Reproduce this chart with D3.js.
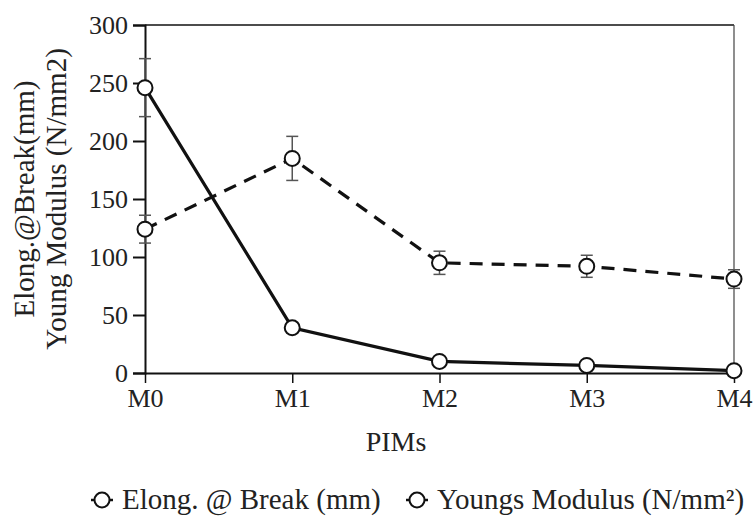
<!DOCTYPE html>
<html>
<head>
<meta charset="utf-8">
<script src="https://cdn.jsdelivr.net/npm/d3@7"></script>
<style>
  body { margin: 0; background: #fff; }
  svg text { font-family: "Liberation Serif", "Times New Roman", serif; fill: #222; }
</style>
</head>
<body>
<script>
// data
const categories = ["M0", "M1", "M2", "M3", "M4"];
const elongValues = [246, 39, 10, 6.5, 2];
const youngValues = [124, 185, 95, 92, 81];
const youngErrors = [12, 19, 10, 9.5, 8];
const elongErrors = [25, 0, 0, 0, 0];
const yTicks = [0, 50, 100, 150, 200, 250, 300];

const width = 756, height = 516;
const margin = {top: 25, right: 22, bottom: 143, left: 145};
const serif = "'Liberation Serif', 'Times New Roman', serif";

let svg = d3.select("body").append("svg")
  .attr("width", width).attr("height", height);

let x = d3.scalePoint().domain(categories)
  .range([margin.left, width - margin.right]);
let y = d3.scaleLinear().domain([0, 300])
  .range([height - margin.bottom, margin.top]);

// frame: top line and thin right line
svg.append("line")
  .attr("x1", margin.left).attr("x2", width - margin.right)
  .attr("y1", y(300)).attr("y2", y(300))
  .attr("stroke", "#111").attr("stroke-width", 1.5);
svg.append("line")
  .attr("x1", width - margin.right).attr("x2", width - margin.right)
  .attr("y1", y(300)).attr("y2", y(0))
  .attr("stroke", "#444").attr("stroke-width", 1.2);

// y axis
let yAxis = svg.append("g")
  .attr("transform", `translate(${margin.left},0)`)
  .call(d3.axisLeft(y).tickValues(yTicks).tickSize(12).tickPadding(5))
  .attr("font-family", serif).attr("font-size", 26);
yAxis.select(".domain").attr("stroke", "#111").attr("stroke-width", 2);
yAxis.selectAll(".tick line").attr("stroke", "#111").attr("stroke-width", 2);
yAxis.selectAll("text").attr("fill", "#222");

// x axis
let xAxis = svg.append("g")
  .attr("transform", `translate(0,${y(0)})`)
  .call(d3.axisBottom(x).tickSize(10).tickPadding(6).tickSizeOuter(0))
  .attr("font-family", serif).attr("font-size", 26);
xAxis.select(".domain").attr("stroke", "#111").attr("stroke-width", 2);
xAxis.selectAll(".tick line").attr("stroke", "#111").attr("stroke-width", 1.5);
xAxis.selectAll("text").attr("fill", "#222");

// axis titles
svg.append("text")
  .attr("x", 396).attr("y", 451)
  .attr("text-anchor", "middle")
  .style("font-size", "28px")
  .text("PIMs");

let yTitle = svg.append("text")
  .attr("transform", "translate(34,199) rotate(-90)")
  .attr("text-anchor", "middle")
  .style("font-size", "29px");
yTitle.append("tspan").attr("x", 0).attr("dy", 0).text("Elong.@Break(mm)");
yTitle.append("tspan").attr("x", 0).attr("dy", 32).text("Young Modulus (N/mm2)");

// error bars
function drawErrors(vals, errs) {
  let g = svg.append("g").attr("stroke", "#555").attr("stroke-width", 1.5);
  vals.forEach((v, i) => {
    if (!errs[i]) return;
    let cx = x(categories[i]);
    g.append("line").attr("x1", cx).attr("x2", cx)
      .attr("y1", y(v - errs[i])).attr("y2", y(v + errs[i]));
    [v - errs[i], v + errs[i]].forEach(e => {
      g.append("line").attr("x1", cx - 6).attr("x2", cx + 6)
        .attr("y1", y(e)).attr("y2", y(e));
    });
  });
}
drawErrors(elongValues, elongErrors);
drawErrors(youngValues, youngErrors);

// lines
let line = d3.line().x((d, i) => x(categories[i])).y(d => y(d));

svg.append("path").datum(youngValues)
  .attr("d", line)
  .attr("fill", "none").attr("stroke", "#111")
  .attr("stroke-width", 3.2).attr("stroke-dasharray", "13,9");

svg.append("path").datum(elongValues)
  .attr("d", line)
  .attr("fill", "none").attr("stroke", "#111")
  .attr("stroke-width", 3.2);

// markers
[youngValues, elongValues].forEach(vals => {
  svg.selectAll(null).data(vals).enter()
    .append("circle")
    .attr("cx", (d, i) => x(categories[i]))
    .attr("cy", d => y(d))
    .attr("r", 7.5)
    .attr("fill", "#fff").attr("stroke", "#111").attr("stroke-width", 2);
});

// legend
let legendItems = [
  {label: "Elong. @ Break (mm)", x: 102},
  {label: "Youngs Modulus (N/mm²)", x: 417}
];
let lg = svg.append("g");
legendItems.forEach(d => {
  lg.append("line")
    .attr("x1", d.x - 11).attr("x2", d.x + 11)
    .attr("y1", 500).attr("y2", 500)
    .attr("stroke", "#111").attr("stroke-width", 2.5);
  lg.append("circle")
    .attr("cx", d.x).attr("cy", 500).attr("r", 7.5)
    .attr("fill", "#fff").attr("stroke", "#111").attr("stroke-width", 2);
  lg.append("text")
    .attr("x", d.x + 20).attr("y", 509)
    .style("font-size", "29px")
    .text(d.label);
});
</script>
</body>
</html>
